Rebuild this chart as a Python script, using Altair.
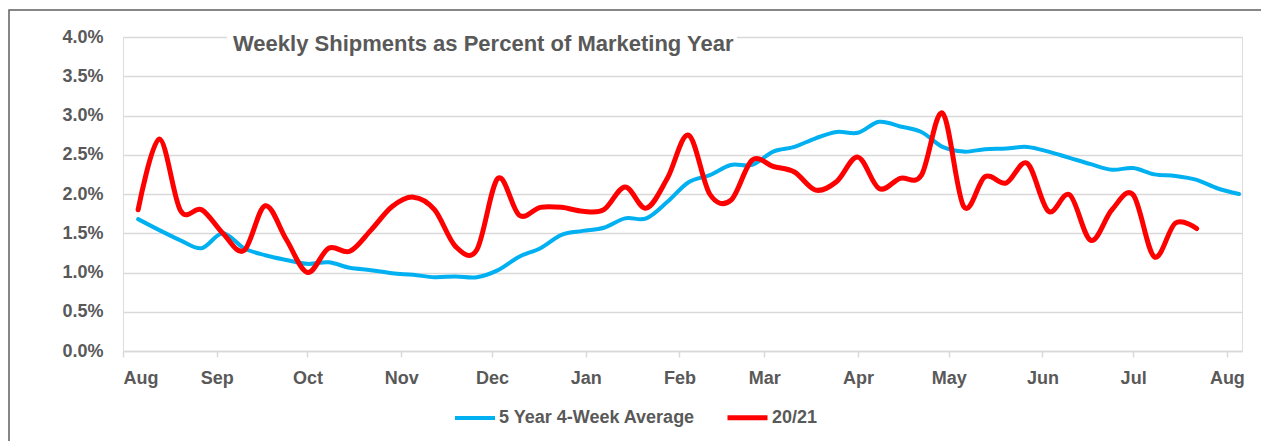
import altair as alt
import pandas as pd

# Weekly dates (Thursdays), marketing year Aug 2020 - Aug 2021
week_dates = [d.strftime("%Y-%m-%dT00:00:00") for d in pd.date_range("2020-08-06", periods=53, freq="7D")]

# 5 Year 4-Week Average (% of marketing year)
avg_values = [1.68, 1.54, 1.41, 1.31, 1.50, 1.31, 1.22, 1.16, 1.11, 1.13,
              1.06, 1.03, 0.99, 0.97, 0.94, 0.95, 0.94, 1.03, 1.20, 1.31,
              1.48, 1.53, 1.57, 1.69, 1.69, 1.90, 2.15, 2.24, 2.37, 2.37,
              2.54, 2.60, 2.71, 2.79, 2.78, 2.92, 2.86, 2.79, 2.60, 2.54,
              2.57, 2.58, 2.60, 2.54, 2.46, 2.38, 2.31, 2.33, 2.25, 2.23,
              2.18, 2.07, 2.00]

# 20/21 (% of marketing year)
cur_values = [1.80, 2.70, 1.79, 1.80, 1.50, 1.28, 1.85, 1.42, 1.00, 1.31,
              1.27, 1.54, 1.84, 1.96, 1.80, 1.33, 1.29, 2.20, 1.73, 1.83,
              1.83, 1.78, 1.80, 2.09, 1.82, 2.20, 2.75, 2.00, 1.92, 2.43,
              2.35, 2.28, 2.05, 2.16, 2.47, 2.07, 2.20, 2.24, 3.03, 1.84,
              2.22, 2.14, 2.39, 1.78, 1.99, 1.41, 1.80, 1.99, 1.20, 1.63,
              1.56]

series_names = ["5 Year 4-Week Average", "20/21"]
series_colors = ["#00B0F0", "#FF0000"]

month_ticks = [alt.DateTime(year=2020 + (8 + i - 1) // 12, month=(8 + i - 1) % 12 + 1, date=1) for i in range(13)]
x_domain = [alt.DateTime(year=2020, month=8, date=1), alt.DateTime(year=2021, month=8, date=6)]

title_text = "Weekly Shipments as Percent of Marketing Year"

rows = []
for d, v in zip(week_dates, avg_values):
    rows.append({"date": d, "value": v / 100, "series": series_names[0]})
for d, v in zip(week_dates, cur_values):
    rows.append({"date": d, "value": v / 100, "series": series_names[1]})
df = pd.DataFrame(rows)
one = pd.DataFrame({"label": [title_text]})

FONT = "Liberation Sans"
GRAY = "#595959"

lines = alt.Chart(df).mark_line(interpolate="cardinal", strokeCap="round", strokeJoin="round").encode(
    x=alt.X("date:T", scale=alt.Scale(domain=x_domain),
            axis=alt.Axis(values=month_ticks, format="%b", title=None, grid=False,
                          domainColor="#d9d9d9", domainWidth=1.5, tickColor="#d9d9d9",
                          tickSize=6, tickWidth=1.5, labelPadding=12, labelFontSize=18,
                          labelFont=FONT, labelFontWeight="bold", labelColor=GRAY)),
    y=alt.Y("value:Q", scale=alt.Scale(domain=[0, 0.04], nice=False),
            axis=alt.Axis(format=".1%", values=[i * 0.005 for i in range(9)], title=None,
                          domain=False, ticks=False, labelPadding=20, gridColor="#d9d9d9",
                          gridWidth=1.5, labelFontSize=18, labelFont=FONT,
                          labelFontWeight="bold", labelColor=GRAY)),
    color=alt.Color("series:N", scale=alt.Scale(domain=series_names, range=series_colors),
                    sort=series_names,
                    legend=alt.Legend(title=None, orient="none", legendX=330, legendY=358,
                                      direction="horizontal", symbolType="stroke",
                                      symbolSize=1600, symbolStrokeWidth=5,
                                      labelFontSize=18, labelFont=FONT, labelFontWeight="bold",
                                      labelColor=GRAY, labelOffset=2, columnPadding=21,
                                      labelLimit=400)),
    strokeWidth=alt.StrokeWidth("series:N", scale=alt.Scale(domain=series_names, range=[4, 5]),
                                legend=None),
)

mask = alt.Chart(one).mark_rect(color="white").encode(
    x=alt.value(104), x2=alt.value(614), y=alt.value(-4), y2=alt.value(4)
)

title = alt.Chart(one).mark_text(align="left", baseline="middle", font=FONT, fontSize=22,
                                 fontWeight="bold", color=GRAY).encode(
    x=alt.value(110), y=alt.value(7), text="label:N"
)

frame = alt.Chart(one).mark_rect(filled=False, stroke="#5f5f5f", strokeWidth=1.5).encode(
    x=alt.value(-114), x2=alt.value(1150), y=alt.value(-27), y2=alt.value(430)
)

chart = alt.layer(frame, lines, mask, title).properties(
    width=1119, height=314,
    autosize=alt.AutoSizeParams(type="none"),
    padding={"left": 123, "top": 37, "right": 19, "bottom": 90},
).configure_view(stroke=None).configure(background="white")

chart.save("out.html", embed_options={"renderer": "svg", "actions": False})
